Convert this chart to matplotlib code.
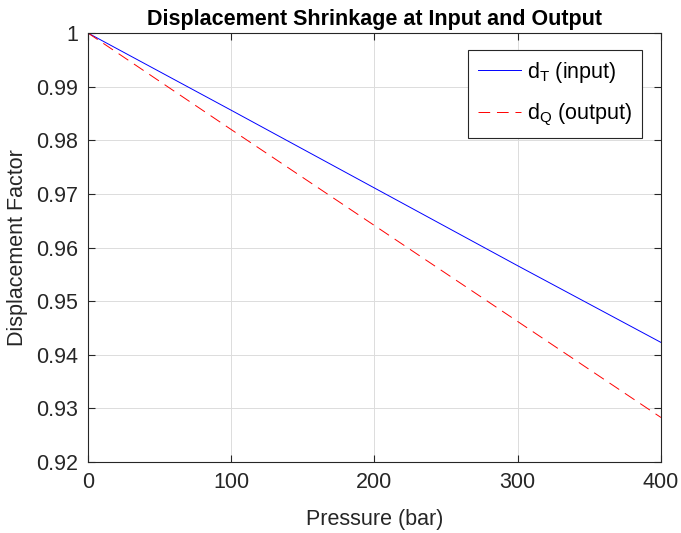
import numpy as np
import matplotlib.pyplot as plt
from matplotlib.lines import Line2D

plt.rcParams['font.family'] = ['Liberation Sans', 'DejaVu Sans']
plt.rcParams['mathtext.fontset'] = 'custom'
plt.rcParams['mathtext.rm'] = 'Liberation Sans'
plt.rcParams['mathtext.it'] = 'Liberation Sans'

# data
pressure = [0, 100, 200, 300, 400]
d_input = [1.0, 0.9856, 0.9711, 0.9566, 0.9423]
d_output = [1.0, 0.9820, 0.9641, 0.9462, 0.9283]
labels = [r'd$_\mathrm{T}$ (input)', r'd$_\mathrm{Q}$ (output)']
colors = ['#0000ff', '#ff0000']
dash = (0, (12, 7))

fig = plt.figure(figsize=(6.81, 5.33), dpi=100)
ax = fig.add_axes([0.1292, 0.1332, 0.8414, 0.8048])

ax.plot(pressure, d_input, color=colors[0], lw=0.7)
ax.plot(pressure, d_output, color=colors[1], lw=0.7, ls=dash)

ax.set_xlim(0, 400)
ax.set_ylim(0.92, 1.0)
ax.set_xticks([0, 100, 200, 300, 400])
ax.set_yticks(np.arange(0.92, 1.0001, 0.01))
ax.set_yticklabels(['0.92', '0.93', '0.94', '0.95', '0.96', '0.97', '0.98', '0.99', '1'])

ax.grid(True, color='#dcdcdc', lw=0.7)
ax.set_axisbelow(True)
ax.tick_params(direction='in', top=True, right=True, labelsize=15.5,
               colors='#262626', length=5, width=0.8, pad=7)
for s in ax.spines.values():
    s.set_color('#262626')
    s.set_linewidth(0.8)

ax.set_xlabel('Pressure (bar)', fontsize=15.5, color='#262626', labelpad=12)
ax.set_ylabel('Displacement Factor', fontsize=15.5, color='#262626', labelpad=6)
ax.set_title('Displacement Shrinkage at Input and Output', fontsize=15.5,
             fontweight='bold', pad=6)

handles = [Line2D([], [], color=colors[0], lw=0.7),
           Line2D([], [], color=colors[1], lw=0.7, ls=dash)]
leg = ax.legend(handles, labels, loc='upper right', bbox_to_anchor=(0.967, 0.96),
                fontsize=15.5, fancybox=False, framealpha=1, edgecolor='#262626',
                handlelength=2.0, handletextpad=0.3, borderpad=0.45,
                labelspacing=0.8, borderaxespad=0)
leg.get_frame().set_linewidth(0.8)
for ln, c in zip(leg.get_lines(), colors):
    ln.set_color(c)

fig.savefig('out.png', dpi=100)
